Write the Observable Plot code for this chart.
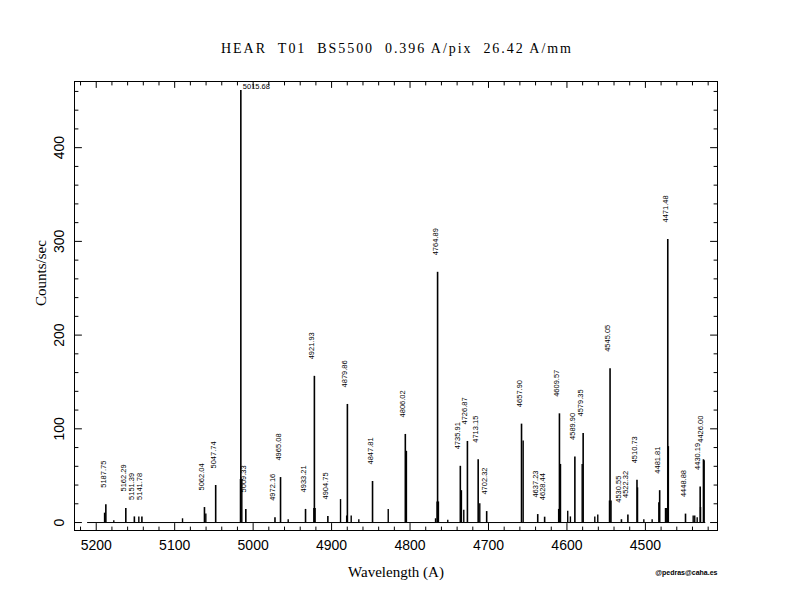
<!DOCTYPE html>
<html><head><meta charset="utf-8">
<script src="https://cdn.jsdelivr.net/npm/d3@7"></script>
<script src="https://cdn.jsdelivr.net/npm/@observablehq/plot@0.6"></script>
<style>body{margin:0;background:#fff}</style>
</head><body><div id="chart"></div>
<script>
// Identified lines (wavelength in A, peak counts/sec)
const lineWl = [5187.75,5162.29,5151.39,5141.78,5062.04,5047.74,5015.68,5009.33,4972.16,4965.08,4933.21,4921.93,4904.75,4879.86,4847.81,4806.02,4764.89,4735.91,4726.87,4713.15,4702.32,4657.90,4637.23,4628.44,4609.57,4589.90,4579.35,4545.05,4530.55,4522.32,4510.73,4481.81,4471.48,4448.88,4430.19,4426.00];
const lineCounts = [19,15,6,6,16,39.5,461,14,5,48,14,156,6.4,126,43.8,94,267,60,86.5,67,11.7,105,8.5,5.7,116,70,95,164,3,8,45,34,302,9,38,67];
// Unlabelled components, shoulders and weak features
const blendWl = [5189.4,5177.6,5145.7,5090.0,5060.3,5016.2,5014.4,4955.3,4922.6,4921.0,4888.6,4880.8,4875.0,4865.3,4827.8,4804.6,4767.5,4765.6,4763.8,4751.9,4734.5,4731.5,4711.1,4655.8,4610.6,4608.2,4599.0,4595.6,4580.6,4564.5,4560.7,4545.8,4543.8,4510.0,4502.0,4491.4,4482.9,4474.4,4472.8,4470.7,4439.1,4437.1,4434.0,4429.7,4425.1];
const blendCounts = [10,2,6,4,9,46,46,3,15,15,24.5,7,7,3,14,76,4,22,22,2.5,34,13,20,87,14,62,12,6,62,6,8,23,23,37,3,3,21,15,15,81,7,7,5,16,66];
const specRange = [5211, 4423];
// Axis ticks
const xMajor = [5200,5100,5000,4900,4800,4700,4600,4500];
const xMinor = [5220,5180,5160,5140,5120,5080,5060,5040,5020,4980,4960,4940,4920,4880,4860,4840,4820,4780,4760,4740,4720,4680,4660,4640,4620,4580,4560,4540,4520,4480,4460,4440,4420];
const yMajor = [0,100,200,300,400];
const yMinor = [20,40,60,80,120,140,160,180,220,240,260,280,320,340,360,380,420,440,460];
const titleText = "HEAR\u00a0\u00a0T01\u00a0\u00a0BS5500\u00a0\u00a00.396 A/pix\u00a0\u00a026.42 A/mm";
const xLabel = "Wavelength (A)";
const yLabel = "Counts/sec";
const credit = "@pedras@caha.es";

const lines = lineWl.map((wl, i) => ({wl, c: lineCounts[i], label: wl.toFixed(2)}));
const blends = blendWl.map((wl, i) => ({wl, c: blendCounts[i]}));

// inward tick marks drawn as short vectors from the frame edge
const tickShape = {draw(context, l) { context.moveTo(0, 0); context.lineTo(0, -l); }};
function tk(anchor, values, size) {
  const horiz = anchor === "top" || anchor === "bottom";
  const rot = {bottom: 0, top: 180, left: 90, right: -90}[anchor];
  return Plot.vector(values, {
    [horiz ? "x" : "y"]: d => d,
    frameAnchor: anchor, length: size, rotate: rot, anchor: "start",
    shape: tickShape, stroke: "black", strokeWidth: 1
  });
}

const chart = Plot.plot({
  width: 792, height: 612,
  marginLeft: 74, marginRight: 75, marginTop: 81, marginBottom: 82,
  x: {domain: [5227.7, 4408.1], axis: null},
  y: {domain: [-8.5, 470.6], axis: null},
  style: {fontFamily: "Liberation Sans", background: "white", color: "black"},
  marks: [
    Plot.ruleY([0], {x1: specRange[0], x2: specRange[1], stroke: "black", strokeWidth: 1}),
    Plot.ruleX(blends, {x: "wl", y1: 0, y2: "c", stroke: "black", strokeWidth: 1.4}),
    Plot.ruleX(lines, {x: "wl", y1: 0, y2: "c", stroke: "black", strokeWidth: 1.6}),
    Plot.text(lines.filter(d => d.c < 400), {x: "wl", y: "c", text: "label", rotate: -90, textAnchor: "start", lineAnchor: "bottom", dy: -17, fontSize: 7.5, fill: "black"}),
    Plot.text(lines.filter(d => d.c >= 400), {x: "wl", y: "c", text: "label", textAnchor: "start", lineAnchor: "bottom", dx: 2, dy: -1, fontSize: 7.5, fill: "black"}),
    Plot.frame({stroke: "black", strokeWidth: 1}),
    tk("bottom", xMajor, 7), tk("bottom", xMinor, 3.5),
    tk("top", xMajor, 6), tk("top", xMinor, 3.5),
    tk("left", yMajor, 7), tk("left", yMinor, 3.5),
    tk("right", yMajor, 7), tk("right", yMinor, 3.5),
    Plot.text(xMajor, {x: d => d, text: d => String(d), frameAnchor: "bottom", dy: 15, lineAnchor: "middle", fontSize: 14, fill: "black"}),
    Plot.text(yMajor, {y: d => d, text: d => String(d), frameAnchor: "left", dx: -15, rotate: -90, textAnchor: "middle", lineAnchor: "middle", fontSize: 14, fill: "black"}),
    Plot.text([titleText], {frameAnchor: "top", dy: -33, lineAnchor: "middle", fontFamily: "Liberation Serif", fontSize: 14, fill: "black", className: "ttl"}),
    Plot.text([xLabel], {frameAnchor: "bottom", dy: 42, lineAnchor: "middle", fontFamily: "Liberation Serif", fontSize: 15, fill: "black"}),
    Plot.text([yLabel], {frameAnchor: "left", dx: -33, rotate: -90, lineAnchor: "middle", fontFamily: "Liberation Serif", fontSize: 15, fill: "black"}),
    Plot.text([credit], {frameAnchor: "bottom-right", dy: 42, textAnchor: "end", lineAnchor: "middle", fontSize: 7, fontWeight: "bold", fill: "black"})
  ]
});
document.getElementById("chart").appendChild(chart);
d3.select(chart).selectAll(".ttl text").attr("textLength", 350).attr("lengthAdjust", "spacing");
</script>
</body></html>
